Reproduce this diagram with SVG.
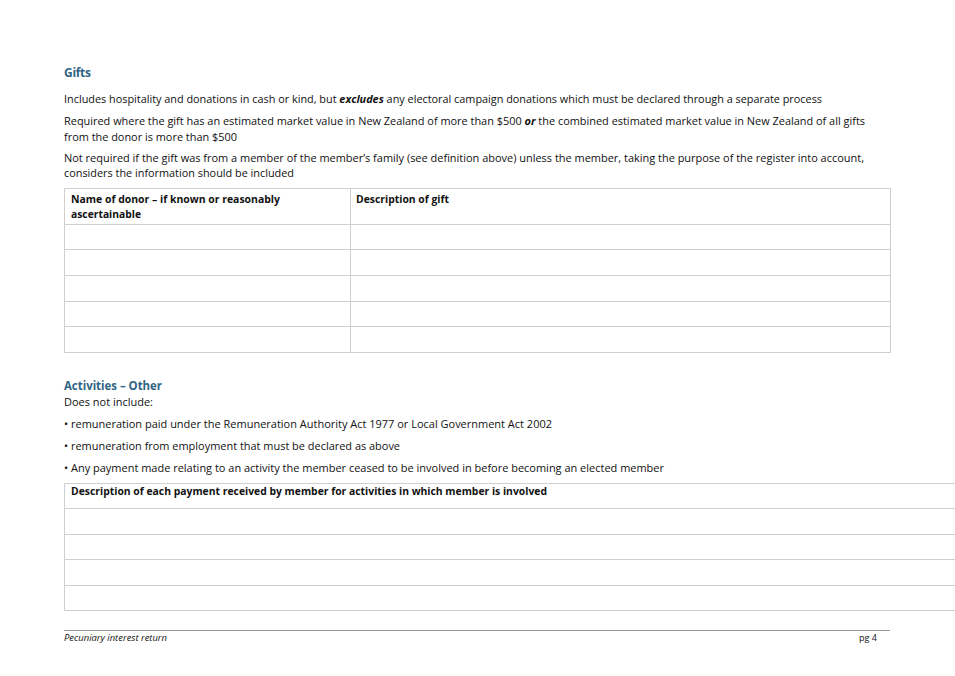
<svg xmlns="http://www.w3.org/2000/svg" width="955" height="676" viewBox="0 0 955 676">
<style>
text{font-family:"Open Sans","Liberation Sans",sans-serif;font-size:11px;fill:#111}
.h{font-weight:bold;fill:#2f6483;font-size:12px}
.b{font-weight:bold}
.t{fill:none;stroke:#cfcfcf;stroke-width:1}
.f{font-size:9px;font-style:italic}
.p{font-size:9px}
</style>
<rect width="955" height="676" fill="#fff"/>
<text class="h" x="64" y="77" textLength="27">Gifts</text>
<text x="64" y="103" textLength="758" lengthAdjust="spacingAndGlyphs">Includes hospitality and donations in cash or kind, but <tspan font-weight="bold" font-style="italic">excludes</tspan> any electoral campaign donations which must be declared through a separate process</text>
<text x="64" y="125" textLength="801" lengthAdjust="spacingAndGlyphs">Required where the gift has an estimated market value in New Zealand of more than $500 <tspan font-weight="bold" font-style="italic">or</tspan> the combined estimated market value in New Zealand of all gifts</text>
<text x="64" y="141" textLength="173" lengthAdjust="spacingAndGlyphs">from the donor is more than $500</text>
<text x="64" y="162" textLength="800" lengthAdjust="spacingAndGlyphs">Not required if the gift was from a member of the member’s family (see definition above) unless the member, taking the purpose of the register into account,</text>
<text x="64" y="177" textLength="230" lengthAdjust="spacingAndGlyphs">considers the information should be included</text>
<g id="table1">
<rect class="t" x="64.5" y="188.5" width="826" height="164"/>
<line class="t" x1="350.5" y1="188" x2="350.5" y2="352"/>
<path class="t" d="M64 224.5H890M64 249.5H890M64 275.5H890M64 301.5H890M64 326.5H890"/>
<text class="b" x="71" y="203" textLength="209" lengthAdjust="spacingAndGlyphs">Name of donor – if known or reasonably</text>
<text class="b" x="71" y="218" textLength="70" lengthAdjust="spacingAndGlyphs">ascertainable</text>
<text class="b" x="356" y="203" textLength="93" lengthAdjust="spacingAndGlyphs">Description of gift</text>
</g>
<text class="h" x="64" y="390" textLength="98" lengthAdjust="spacingAndGlyphs">Activities – Other</text>
<text x="64" y="406" textLength="89" lengthAdjust="spacingAndGlyphs">Does not include:</text>
<text x="64" y="428" textLength="488" lengthAdjust="spacingAndGlyphs">• remuneration paid under the Remuneration Authority Act 1977 or Local Government Act 2002</text>
<text x="64" y="450" textLength="336" lengthAdjust="spacingAndGlyphs">• remuneration from employment that must be declared as above</text>
<text x="64" y="472" textLength="600" lengthAdjust="spacingAndGlyphs">• Any payment made relating to an activity the member ceased to be involved in before becoming an elected member</text>
<g id="table2">
<path class="t" d="M955 483.5H64.5V610.5H955M64 508.5H955M64 534.5H955M64 559.5H955M64 585.5H955"/>
<text class="b" x="71" y="495" textLength="476" lengthAdjust="spacingAndGlyphs">Description of each payment received by member for activities in which member is involved</text>
</g>
<line x1="64" y1="630.5" x2="890" y2="630.5" stroke="#999" stroke-width="1"/>
<text class="f" x="64" y="641" textLength="103" lengthAdjust="spacingAndGlyphs">Pecuniary interest return</text>
<text class="p" x="877" y="641" text-anchor="end">pg 4</text>
</svg>
